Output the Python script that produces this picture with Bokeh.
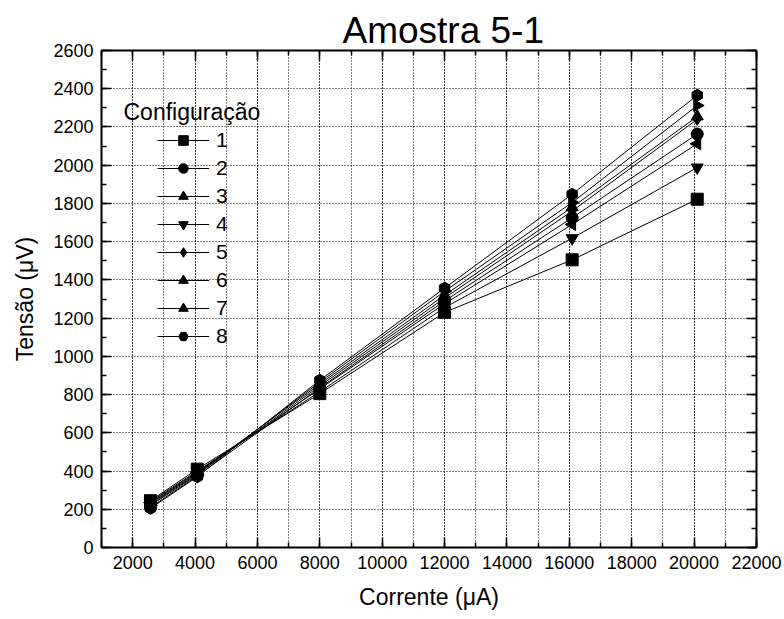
import math
from bokeh.plotting import figure
from bokeh.models import (Range1d, SingleIntervalTicker, LinearAxis, Legend,
                          LegendItem, Label, CustomJSTickFormatter)
from bokeh.embed import file_html
from bokeh.resources import INLINE

FONT = "Liberation Sans"

# ---- data ----
corrente = [2570, 4070, 8000, 12000, 16090, 20100]
config_labels = ["1", "2", "3", "4", "5", "6", "7", "8"]
s1 = [245, 410, 805, 1230, 1505, 1822]
s2 = [210, 375, 835, 1290, 1725, 2163]
s3 = [230, 390, 855, 1320, 1780, 2255]
s4 = [240, 400, 815, 1255, 1618, 1988]
s5 = [225, 385, 845, 1305, 1760, 2240]
s6 = [235, 395, 830, 1275, 1690, 2112]
s7 = [220, 380, 865, 1340, 1805, 2312]
s8 = [205, 370, 875, 1357, 1848, 2366]
series = [s1, s2, s3, s4, s5, s6, s7, s8]
markers = ["square", "circle", "triangle", "inverted_triangle", "diamond",
           "triangle", "triangle", "hex"]
angles = [0, 0, 0, 0, 0, math.pi / 2, -math.pi / 2, math.pi / 2]
x_ticks_interval = 2000
y_ticks_interval = 200

p = figure(frame_width=655, frame_height=497,
           min_border_left=101, min_border_right=28,
           min_border_top=50, min_border_bottom=72,
           x_range=Range1d(1000, 22000), y_range=Range1d(0, 2600),
           output_backend="svg", toolbar_location=None,
           x_axis_label="Corrente (\u03bcA)", y_axis_label="Tens\u00e3o (\u03bcV)")

p.title.text = "Amostra 5-1"
p.title.text_font = FONT
p.title.text_font_size = "37px"
p.title.text_font_style = "normal"
p.title.text_color = "black"
p.title.align = "left"
p.title.offset = 241
p.title.standoff = 0
p.outline_line_color = None
p.background_fill_color = "white"
p.border_fill_color = "white"

xt = SingleIntervalTicker(interval=x_ticks_interval, num_minor_ticks=2)
yt = SingleIntervalTicker(interval=y_ticks_interval, num_minor_ticks=2)
p.xaxis.ticker = xt
p.yaxis.ticker = yt

def style_axis(ax):
    ax.axis_line_width = 2
    ax.axis_line_color = "black"
    ax.major_tick_in = 10
    ax.major_tick_out = 0
    ax.minor_tick_in = 5
    ax.minor_tick_out = 0
    ax.major_tick_line_width = 1.5
    ax.minor_tick_line_width = 1.5
    ax.major_tick_line_color = "black"
    ax.minor_tick_line_color = "black"
    ax.major_label_text_font = FONT
    ax.major_label_text_font_size = "18px"
    ax.major_label_text_color = "black"
    ax.axis_label_text_font = FONT
    ax.axis_label_text_font_size = "23px"
    ax.axis_label_text_font_style = "normal"
    ax.axis_label_text_color = "black"

for ax in p.xaxis + p.yaxis:
    style_axis(ax)
p.xaxis.major_label_standoff = 8
p.yaxis.major_label_standoff = 8
p.xaxis.axis_label_standoff = 12
p.yaxis.axis_label_standoff = 12

top = LinearAxis(ticker=SingleIntervalTicker(interval=x_ticks_interval, num_minor_ticks=2),
                 formatter=CustomJSTickFormatter(code="return ''"))
right = LinearAxis(ticker=SingleIntervalTicker(interval=y_ticks_interval, num_minor_ticks=2),
                   formatter=CustomJSTickFormatter(code="return ''"))
for ax in (top, right):
    style_axis(ax)
    ax.major_label_text_font_size = "0px"
    ax.major_label_standoff = 0
p.add_layout(top, "above")
p.add_layout(right, "right")

p.xgrid.ticker = xt
p.ygrid.ticker = yt
p.xgrid.grid_line_color = "black"
p.xgrid.grid_line_dash = "1 2"
p.xgrid.grid_line_width = 1
p.xgrid.minor_grid_line_color = "black"
p.xgrid.minor_grid_line_dash = "1 2"
p.xgrid.minor_grid_line_width = 1
p.ygrid.grid_line_color = "black"
p.ygrid.grid_line_dash = "1 2"
p.ygrid.grid_line_width = 1

items = []
for lab, ys, mk, ang in zip(config_labels, series, markers, angles):
    ln = p.line(corrente, ys, line_color="black", line_width=1)
    sc = p.scatter(corrente, ys, marker=mk, angle=ang, size=12,
                   fill_color="black", line_color="black")
    items.append(LegendItem(label=lab, renderers=[ln, sc]))

legend = Legend(items=items, location=(56, 199), padding=0, spacing=4,
                glyph_width=52, glyph_height=24, label_height=24,
                label_standoff=7, label_text_font=FONT,
                label_text_font_size="21px", label_text_color="black",
                background_fill_alpha=0, border_line_alpha=0, margin=0)
p.add_layout(legend)

p.add_layout(Label(x=1705, y=2277, text="Configura\u00e7\u00e3o", text_font=FONT,
                   text_font_size="23px", text_baseline="middle",
                   text_color="black"))

open("out.html", "w").write(file_html(p, INLINE))
